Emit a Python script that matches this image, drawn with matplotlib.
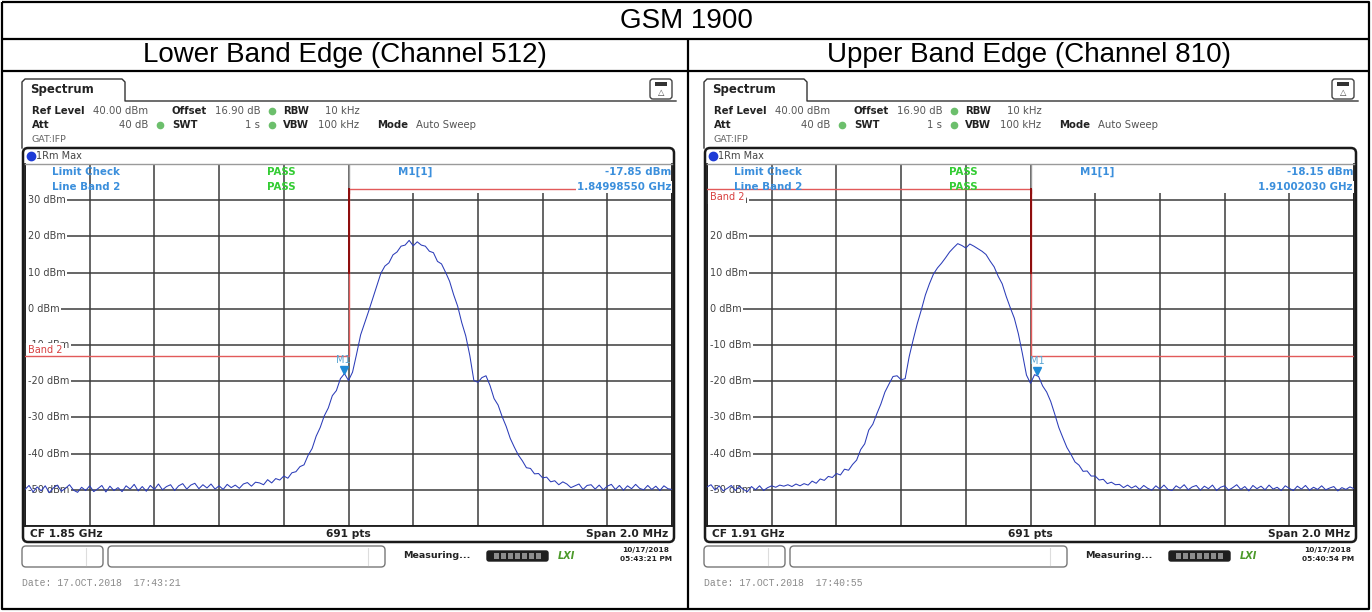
import numpy as np
import matplotlib.pyplot as plt
from matplotlib.patches import FancyBboxPatch, Rectangle
from matplotlib.transforms import Affine2D

# trace levels (dBm), 161 points across the 2 MHz span
low_cf = 1850.0   # MHz
low_levels = [
    -49.9, -48.8, -50.6, -49.2, -50.3, -48.9, -50.8, -49.5, -48.7, -50.4, -49.6, -48.6, -50.1, -50.7, -49.3, -50.2,
    -48.9, -50.5, -49.7, -48.8, -50.6, -49.0, -50.2, -49.4, -50.5, -48.9, -49.8, -48.5, -50.3, -49.1, -50.4, -48.8,
    -49.9, -48.4, -50.0, -49.1, -48.6, -50.2, -48.9, -48.3, -49.8, -48.7, -48.2, -49.7, -48.6, -49.5, -48.4, -49.8,
    -48.9, -49.9, -48.5, -49.4, -48.7, -49.6, -48.4, -48.0, -49.0, -47.9, -48.1, -48.6, -47.2, -48.1, -46.9, -47.3,
    -46.2, -46.8, -45.3, -45.0, -43.6, -43.1, -40.5, -38.6, -35.2, -32.8, -29.6, -27.4, -24.0, -22.6, -19.3, -17.9,
    -19.8, -17.5, -12.5, -7.2, -3.9, -0.6, 2.9, 6.5, 9.8, 11.8, 12.7, 14.9, 15.7, 17.3, 17.6, 18.9,
    17.4, 18.5, 17.6, 17.3, 15.9, 15.5, 13.1, 12.4, 10.1, 7.6, 3.9, 0.7, -3.8, -7.5, -12.9, -19.8,
    -20.3, -19.0, -18.5, -21.2, -24.8, -26.6, -29.8, -32.5, -35.8, -38.2, -40.4, -42.0, -43.9, -44.1, -45.6, -45.5,
    -46.7, -46.5, -47.8, -47.5, -48.6, -47.8, -48.4, -49.4, -48.9, -48.4, -49.9, -48.8, -48.6, -49.8, -48.7, -50.0,
    -49.0, -48.5, -49.9, -48.8, -50.1, -48.9, -49.7, -48.5, -49.6, -50.0, -48.8, -49.9, -49.0, -50.2, -48.9, -49.7,
    -49.9]

up_cf = 1910.0
up_levels = [
    -49.2, -48.6, -50.1, -48.9, -50.3, -49.6, -48.8, -50.2, -49.0, -49.9, -50.5, -49.1, -50.0, -48.9, -50.2, -49.4,
    -48.9, -49.3, -48.7, -49.0, -48.6, -49.1, -48.4, -48.9, -48.3, -48.7, -47.6, -48.2, -47.0, -47.4, -46.3, -46.6,
    -45.5, -45.9, -44.3, -44.6, -43.0, -41.8, -38.9, -37.3, -33.5, -31.9, -29.0, -26.3, -23.0, -20.8, -18.7, -18.5,
    -19.6, -19.3, -13.2, -8.5, -4.1, -0.3, 3.8, 6.9, 9.6, 11.3, 12.6, 14.1, 15.7, 16.9, 18.0, 17.5,
    16.8, 17.9, 17.3, 16.6, 15.9, 15.0, 13.2, 11.6, 9.0, 6.9, 3.4, 0.3, -2.6, -6.9, -12.4, -18.3,
    -20.6, -18.2, -18.7, -21.3, -23.0, -25.6, -29.1, -32.8, -35.6, -38.3, -40.2, -42.3, -43.2, -44.9, -44.8, -46.2,
    -46.2, -47.3, -47.1, -48.3, -47.9, -48.6, -48.5, -49.4, -48.7, -49.5, -48.9, -49.9, -48.8, -49.6, -50.1, -48.9,
    -49.8, -48.7, -49.9, -50.2, -48.9, -49.6, -48.6, -50.0, -49.2, -48.8, -50.1, -49.0, -49.7, -48.7, -50.2, -49.3,
    -48.9, -50.1, -49.4, -48.6, -49.9, -49.1, -50.3, -48.8, -49.7, -49.0, -50.0, -48.7, -49.8, -49.3, -50.2, -48.9,
    -49.6, -50.2, -49.0, -49.8, -48.8, -50.1, -49.3, -49.9, -48.9, -50.0, -49.5, -49.1, -50.3, -49.4, -49.9, -49.2,
    -49.7]

# marker M1 (frequency in GHz, level in dBm)
low_marker = (1.84998550, -17.85)
up_marker = (1.91002030, -18.15)

# limit line "Band 2": -13 dBm outside the band, 33 dBm inside
limit_out = -13
limit_in = 33

y_ticks = [30, 20, 10, 0, -10, -20, -30, -40, -50]

low_stamp = ("10/17/2018", "05:43:21 PM", "Date: 17.OCT.2018  17:43:21")
up_stamp = ("10/17/2018", "05:40:54 PM", "Date: 17.OCT.2018  17:40:55")

W, H = 1372, 612
fig = plt.figure(figsize=(W / 100, H / 100), dpi=100)
bg = fig.add_axes([0, 0, 1, 1])
bg.set_xlim(0, W)
bg.set_ylim(H, 0)
bg.axis('off')

# pixel transform (origin top-left) for texts placed inside the spectrum axes
pix = Affine2D().scale(1 / W, -1 / H).translate(0, 1) + fig.transFigure

# table around the two screenshots
k = dict(color='black', lw=1.6, solid_capstyle='butt')
bg.plot([2, 1369, 1369, 2, 2], [2, 2, 609, 609, 2], **k)
bg.plot([2, 1369], [39, 39], **k)
bg.plot([2, 1369], [71, 71], **k)
bg.plot([688, 688], [39, 609], **k)
bg.text(686, 21, 'GSM 1900', family='Liberation Sans', size=20, ha='center', va='center')
bg.text(345, 55, 'Lower Band Edge (Channel 512)', family='Liberation Sans', size=20, ha='center', va='center')
bg.text(1029, 55, 'Upper Band Edge (Channel 810)', family='Liberation Sans', size=20, ha='center', va='center')

blue_txt = '#3b8fdc'
green_txt = '#33cc33'
dark = '#222222'
grey = '#555555'


def draw_panel(dx, cf, levels, marker, lower, stamp):
    # --- instrument header ---
    bg.plot(np.array([22, 22, 25, 122, 125, 125, 676]) + dx, [148, 82, 79, 79, 82, 101, 101],
            color='#333333', lw=1.0)
    bg.text(30 + dx, 90, 'Spectrum', weight='bold', size=8.5, color=dark, va='center')
    bg.add_patch(FancyBboxPatch((650 + dx, 79), 22, 20, boxstyle='round,pad=0,rounding_size=3',
                                fc='white', ec='#444444', lw=1.0))
    bg.add_patch(Rectangle((655 + dx, 82), 12, 4, fc='#333333', ec='none'))
    bg.text(661 + dx, 93, '\u25b3', size=6, ha='center', va='center', color='#444444')

    rows = [
        (111, [('Ref Level', 32, 'left', True), ('40.00 dBm', 93, 'left', False),
               ('Offset', 172, 'left', True), ('16.90 dB', 215, 'left', False),
               ('RBW', 283, 'left', True), ('10 kHz', 325, 'left', False)]),
        (125, [('Att', 32, 'left', True), ('40 dB', 148, 'right', False),
               ('SWT', 172, 'left', True), ('1 s', 260, 'right', False),
               ('VBW', 283, 'left', True), ('100 kHz', 318, 'left', False),
               ('Mode', 377, 'left', True), ('Auto Sweep', 416, 'left', False)]),
    ]
    for y, items in rows:
        for s, x, ha, b in items:
            bg.text(x + dx, y, s, size=7.3, ha=ha, va='center',
                    weight='bold' if b else 'normal', color=dark if b else grey)
    for x, y in [(272, 111), (160, 125), (272, 125)]:
        bg.plot(x + dx, y, marker='o', ms=4.5, mfc='#6cbf6c', mec='#6cbf6c')
    bg.text(32 + dx, 139, 'GAT:IFP', size=6.8, color='#666666', va='center')

    bg.add_patch(FancyBboxPatch((23 + dx, 148), 651, 394, boxstyle='round,pad=0,rounding_size=5',
                                fc='none', ec='#1a1a1a', lw=1.8, zorder=3))
    bg.plot(31 + dx, 156, marker='o', ms=6, mfc='#1d3bd6', mec='#1d3bd6')
    bg.text(36 + dx, 156, '1Rm Max', size=7, color='#444444', va='center')

    # --- spectrum trace ---
    ax = fig.add_axes([(25 + dx) / W, 1 - 526 / H, 647 / W, 362 / H])
    ax.set_facecolor('white')
    freqs = np.linspace(cf - 1, cf + 1, len(levels))
    ax.plot(freqs, levels, color='#2b3cb8', lw=0.75, zorder=5)
    ax.set_xlim(cf - 1, cf + 1)
    ax.set_ylim(-60, 40)
    ax.set_xticks(np.linspace(cf - 1, cf + 1, 11))
    ax.set_yticks(np.arange(-60, 41, 10))
    ax.grid(color='#3c3c3c', lw=1.1)
    ax.tick_params(length=0, labelbottom=False, labelleft=False)
    for side in ['left', 'right', 'bottom']:
        ax.spines[side].set_color('#1a1a1a')
        ax.spines[side].set_linewidth(1.3)
    ax.spines['top'].set_color('#9a9a9a')
    ax.spines['top'].set_linewidth(1.0)

    ytr = ax.get_yaxis_transform()
    for v in y_ticks:
        ax.text(0.0045, v, f'{v} dBm', transform=ytr, size=7, color='#444444', va='center',
                zorder=2.2, bbox=dict(fc='white', ec='none', pad=1.2))

    # marker readout box
    ax.add_patch(Rectangle((cf, 32), 1, 8, fc='white', ec='none', zorder=2.1))
    ax.plot([cf, cf], [32, 40], color='#9a9a9a', lw=1.0, zorder=2.3)

    # limit line
    if lower:
        lx, ly = [cf - 1, cf, cf, cf + 1], [limit_out, limit_out, limit_in, limit_in]
    else:
        lx, ly = [cf - 1, cf, cf, cf + 1], [limit_in, limit_in, limit_out, limit_out]
    ax.plot(lx, ly, color='#e25a5a', lw=1.0, zorder=3)
    ax.plot([cf, cf], [10, limit_in], color='#8e0c0c', lw=1.4, zorder=3)
    if lower:
        ax.text(0.004, limit_out + 0.3, 'Band 2', transform=ytr, size=7, color='#d84040', va='bottom',
                zorder=2.4, bbox=dict(fc='white', ec='none', pad=1.6))
    else:
        ax.text(0.004, limit_in - 0.6, 'Band 2', transform=ytr, size=7, color='#d84040', va='top',
                zorder=2.4, bbox=dict(fc='white', ec='none', pad=1.6))

    # marker
    mf, ml = marker
    ax.plot(mf * 1000, ml + 0.9, marker='v', ms=5.5, color='#1e8ad6', zorder=6)
    ax.text(mf * 1000, ml + 3.6, 'M1', size=7, color='#5aa5d2', ha='center', va='center', zorder=6)

    # info texts in the top of the grid
    tk = dict(transform=pix, size=7.4, weight='bold', va='center', zorder=4)
    ax.text(52 + dx, 172, 'Limit Check', color=blue_txt, **tk)
    ax.text(52 + dx, 187, 'Line Band 2', color=blue_txt, **tk)
    ax.text(267 + dx, 172, 'PASS', color=green_txt, **tk)
    ax.text(267 + dx, 187, 'PASS', color=green_txt, **tk)
    ax.text(398 + dx, 172, 'M1[1]', color=blue_txt, **tk)
    ax.text(671 + dx, 172, f'{ml:.2f} dBm', color=blue_txt, ha='right', **tk)
    ax.text(671 + dx, 187, f'{mf:.8f} GHz', color=blue_txt, ha='right',
            bbox=dict(fc='white', ec='none', pad=0.5), **tk)

    # footer
    fk = dict(size=7.7, weight='bold', color=dark, va='center')
    bg.text(30 + dx, 534, f'CF {cf / 1000:.2f} GHz', **fk)
    bg.text(348 + dx, 534, '691 pts', ha='center', **fk)
    bg.text(668 + dx, 534, 'Span 2.0 MHz', ha='right', **fk)

    # status bar
    for x0, x1, xd in [(22, 103, 86), (108, 385, 368)]:
        bg.add_patch(FancyBboxPatch((x0 + dx, 546), x1 - x0, 21, boxstyle='round,pad=0,rounding_size=4',
                                    fc='white', ec='#777777', lw=1.0))
        bg.plot([xd + dx, xd + dx], [548, 565], color='#dddddd', lw=0.8)
    bg.text(403 + dx, 556, 'Measuring...', size=6.8, weight='bold', color=dark, va='center')
    bg.add_patch(FancyBboxPatch((487 + dx, 551), 61, 10, boxstyle='round,pad=0,rounding_size=2',
                                fc='#1e1e1e', ec='#1e1e1e'))
    for i in range(7):
        bg.add_patch(Rectangle((494 + dx + i * 7, 553), 5, 6, fc='#8c8c8c', ec='none'))
    bg.text(558 + dx, 556, 'LXI', size=7, style='italic', weight='bold', color='#4c9a2a', va='center')
    bg.text(646 + dx, 550, stamp[0], size=5.3, weight='bold', color=dark, ha='center', va='center')
    bg.text(646 + dx, 559, stamp[1], size=5.3, weight='bold', color=dark, ha='center', va='center')
    bg.text(22 + dx, 583, stamp[2], size=7, family='Liberation Mono', color='#8a8a8a', va='center')


draw_panel(0, low_cf, low_levels, low_marker, True, low_stamp)
draw_panel(682, up_cf, up_levels, up_marker, False, up_stamp)

fig.savefig('out.png', dpi=100)
